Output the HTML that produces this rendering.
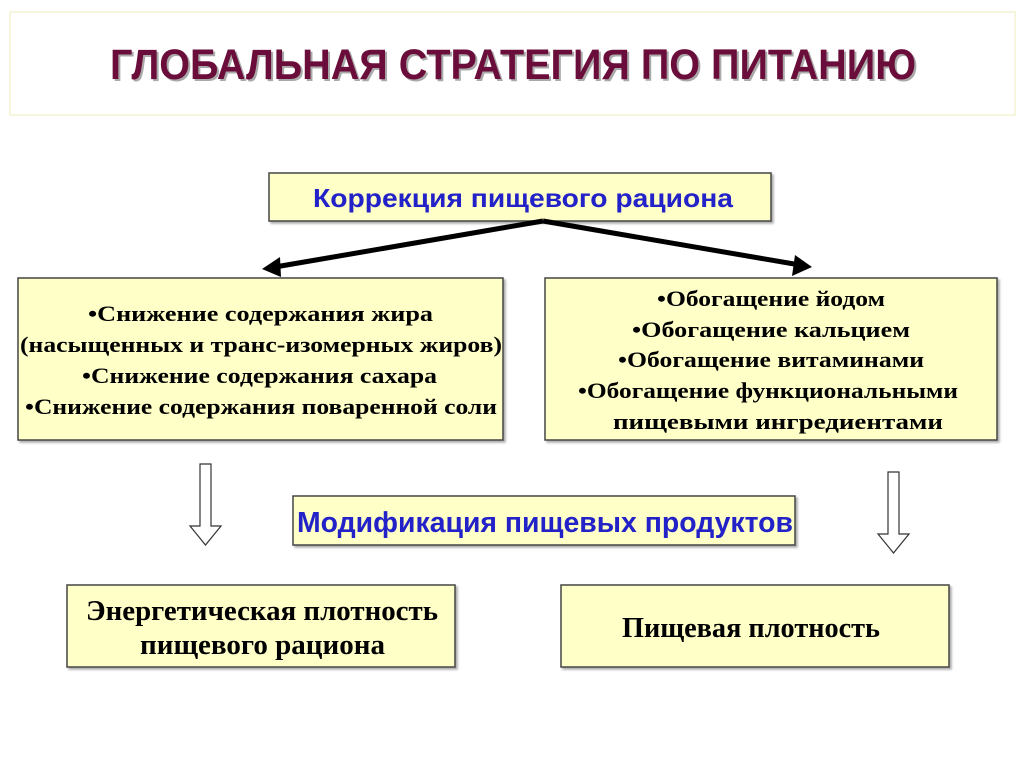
<!DOCTYPE html>
<html><head><meta charset="utf-8"><style>
html,body{margin:0;padding:0;background:#fff;}
svg{display:block;}
.s{font-family:"Liberation Serif",serif;font-weight:bold;fill:#000;}
.b{font-family:"Liberation Sans",sans-serif;font-weight:bold;fill:#2222c8;}
</style></head><body>
<svg width="1024" height="767" viewBox="0 0 1024 767" xmlns="http://www.w3.org/2000/svg">
<defs>
<filter id="sh" x="-5%" y="-5%" width="110%" height="120%"><feDropShadow dx="2" dy="2" stdDeviation="1" flood-color="#888" flood-opacity="0.7"/></filter>
</defs>
<rect x="10" y="12" width="1005" height="103" fill="#fff" stroke="#f6f6dc" stroke-width="2"/>
<text x="110" y="79" textLength="806" lengthAdjust="spacingAndGlyphs" font-family="Liberation Sans, sans-serif" font-weight="bold" font-size="43" fill="#aaa" transform="translate(2,2)">ГЛОБАЛЬНАЯ СТРАТЕГИЯ ПО ПИТАНИЮ</text>
<text x="110" y="79" textLength="806" lengthAdjust="spacingAndGlyphs" font-family="Liberation Sans, sans-serif" font-weight="bold" font-size="43" fill="#6a0d3a">ГЛОБАЛЬНАЯ СТРАТЕГИЯ ПО ПИТАНИЮ</text>

<g fill="#ffffc8" stroke="#444" stroke-width="1.5" filter="url(#sh)">
<rect x="269" y="173" width="502" height="48"/>
<rect x="18" y="278" width="485" height="162"/>
<rect x="545" y="278" width="452" height="162"/>
<rect x="293" y="496" width="502" height="49"/>
<rect x="67" y="585" width="388" height="82"/>
<rect x="561" y="585" width="388" height="82"/>
</g>

<text class="b" x="313" y="207" font-size="26" textLength="420" lengthAdjust="spacingAndGlyphs">Коррекция пищевого рациона</text>
<text class="b" x="297" y="532" font-size="29" textLength="496" lengthAdjust="spacingAndGlyphs">Модификация пищевых продуктов</text>

<g stroke="#000" stroke-width="5" fill="none">
<line x1="543" y1="221" x2="275" y2="267"/>
<line x1="543" y1="221" x2="800" y2="265"/>
</g>
<polygon points="262,269 280,257 281,277" fill="#000"/>
<polygon points="812,267 795,255 792,276" fill="#000"/>

<g fill="#fff" stroke="#333" stroke-width="1.2">
<polygon points="200,464 211,464 211,526 221,526 205.5,545 190,526 200,526"/>
<polygon points="888,472 899,472 899,534 909,534 893.5,553 878,534 888,534"/>
</g>

<g class="s" font-size="22">
<text x="88" y="321" textLength="345" lengthAdjust="spacingAndGlyphs">•Снижение содержания жира</text>
<text x="20" y="352" textLength="482" lengthAdjust="spacingAndGlyphs">(насыщенных и транс-изомерных жиров)</text>
<text x="82" y="383" textLength="355" lengthAdjust="spacingAndGlyphs">•Снижение содержания сахара</text>
<text x="25" y="414" textLength="472" lengthAdjust="spacingAndGlyphs">•Снижение содержания поваренной соли</text>
<text x="657" y="306" textLength="228" lengthAdjust="spacingAndGlyphs">•Обогащение йодом</text>
<text x="632" y="337" textLength="278" lengthAdjust="spacingAndGlyphs">•Обогащение кальцием</text>
<text x="618" y="367" textLength="306" lengthAdjust="spacingAndGlyphs">•Обогащение витаминами</text>
<text x="578" y="398" textLength="380" lengthAdjust="spacingAndGlyphs">•Обогащение функциональными</text>
<text x="613" y="429" textLength="330" lengthAdjust="spacingAndGlyphs">пищевыми ингредиентами</text>
</g>
<g class="s" font-size="29">
<text x="86" y="620" textLength="352" lengthAdjust="spacingAndGlyphs">Энергетическая плотность</text>
<text x="140" y="654" textLength="245" lengthAdjust="spacingAndGlyphs">пищевого рациона</text>
<text x="622" y="637" textLength="258" lengthAdjust="spacingAndGlyphs">Пищевая плотность</text>
</g>
</svg>
</body></html>
